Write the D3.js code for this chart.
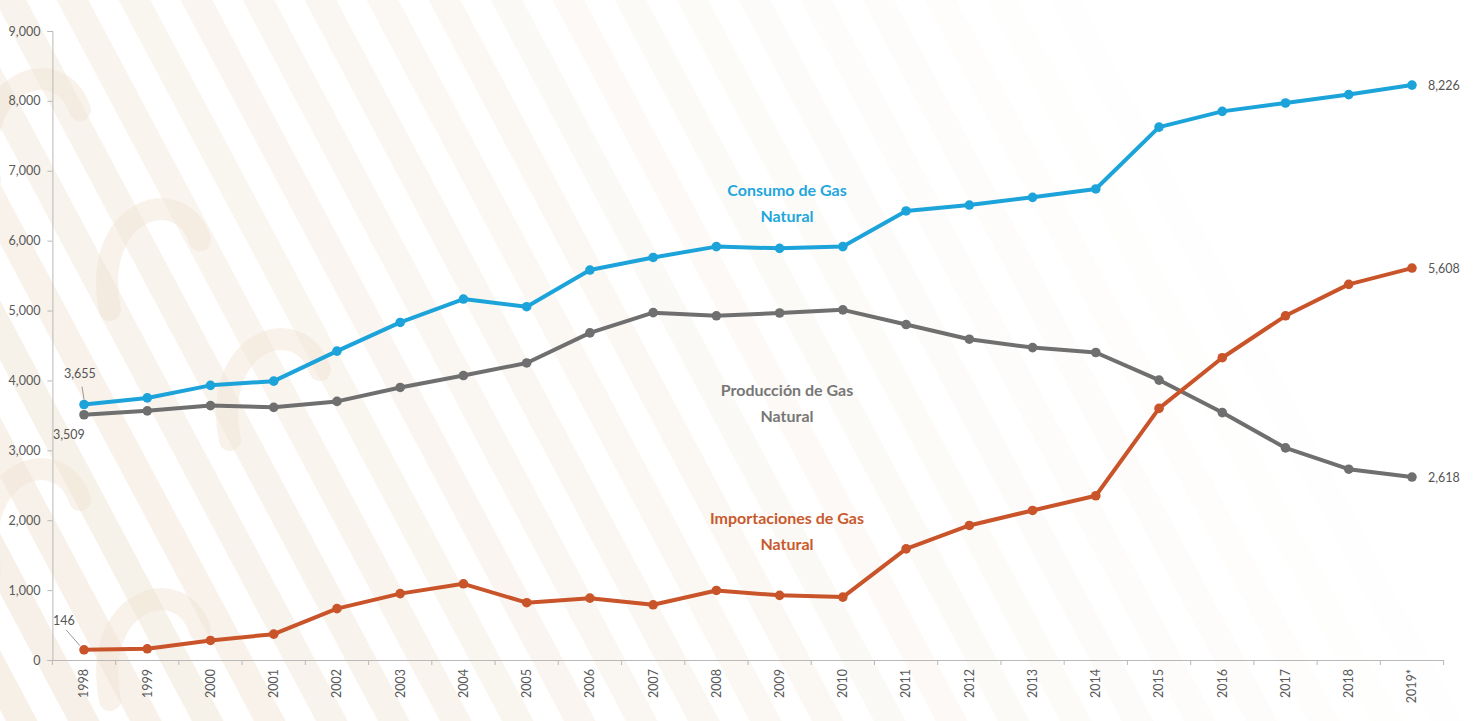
<!DOCTYPE html>
<html>
<head>
<meta charset="utf-8">
<script src="https://cdn.jsdelivr.net/npm/d3@7"></script>
<style>
  html, body { margin: 0; padding: 0; background: #fff; }
  svg { display: block; }
  text { font-family: Lato, "Open Sans", sans-serif; }
</style>
</head>
<body>
<svg id="chart" width="1478" height="721"></svg>
<script>
// Natural gas in Mexico, 1998–2019 (MMpcd)
const years = ["1998","1999","2000","2001","2002","2003","2004","2005","2006","2007","2008",
               "2009","2010","2011","2012","2013","2014","2015","2016","2017","2018","2019*"];

const consumo = [3655,3750,3930,3990,4420,4830,5165,5055,5580,5760,5915,5890,5915,6425,6510,
                 6620,6740,7625,7850,7970,8090,8226];
const produccion = [3509,3565,3640,3615,3700,3900,4070,4250,4680,4970,4925,4965,5010,4800,4590,
                    4470,4400,4005,3540,3035,2730,2618];
const importaciones = [146,160,280,370,735,950,1090,820,885,790,995,925,900,1590,1925,
                       2140,2350,3600,4325,4925,5375,5608];

const yTicks = [0,1000,2000,3000,4000,5000,6000,7000,8000,9000];

const series = [
  { name: ["Consumo de Gas","Natural"], values: consumo, color: "#1ba3da", labelColor: "#22a6dc",
    labelAt: { x: 787, y: 196 } },
  { name: ["Producción de Gas","Natural"], values: produccion, color: "#6f6f6f", labelColor: "#777777",
    labelAt: { x: 787, y: 396 } },
  { name: ["Importaciones de Gas","Natural"], values: importaciones, color: "#c9542a", labelColor: "#c85a2e",
    labelAt: { x: 787, y: 524 } }
];

const svg = d3.select("#chart");
const W = 1478, H = 721;

// ---- decorative background: faint beige slanted bands, fading toward the right ----
const bg = svg.append("g");
const bandIdx = d3.range(-8, 26);
const bandOpacity = i => Math.max(0, 0.55 * (1 - (i * 62 + 200) / 1500));
bg.selectAll("rect.band").data(bandIdx).join("rect")
  .attr("class", "band")
  .attr("x", i => i * 62)
  .attr("y", -300)
  .attr("width", 28)
  .attr("height", 1400)
  .attr("rx", 14)
  .attr("fill", "#efe3d2")
  .attr("fill-opacity", bandOpacity)
  .attr("transform", i => `rotate(-28 ${i * 62} 360)`);
bg.selectAll("path.swirl").data(d3.range(0, 5)).join("path")
  .attr("class", "swirl")
  .attr("d", i => {
    const cx = 30 + (i % 3) * 120, cy = 120 + i * 130;
    return `M${cx - 40},${cy + 60} C${cx - 60},${cy - 40} ${cx + 30},${cy - 70} ${cx + 50},${cy - 10}`;
  })
  .attr("fill", "none").attr("stroke", "#efe3d2").attr("stroke-opacity", 0.45)
  .attr("stroke-width", 22).attr("stroke-linecap", "round");

// ---- scales ----
const x = d3.scaleBand().domain(years).range([52.4, 1443.6]).padding(0);
const y = d3.scaleLinear().domain([0, 9000]).range([660, 31]);
const cx = d => x(d) + x.bandwidth() / 2;

const axisColor = "#b9b9b9";
const tickText = "#595959";

// ---- y axis ----
const yAxis = svg.append("g").attr("transform", "translate(52.4,0)")
  .call(d3.axisLeft(y).tickValues(yTicks).tickFormat(d3.format(",")).tickSize(5).tickPadding(7));
yAxis.select(".domain").attr("stroke", axisColor);
yAxis.selectAll(".tick line").attr("stroke", axisColor);
yAxis.selectAll(".tick text").attr("fill", tickText).attr("font-size", 12.5)
  .style("font-family", "Lato, 'Open Sans', sans-serif");

// ---- x axis ----
const xAxis = svg.append("g").attr("transform", `translate(0,${y(0)})`)
  .call(d3.axisBottom(x).tickSize(0).tickPadding(0));
xAxis.select(".domain").attr("stroke", axisColor);
xAxis.selectAll(".tick text")
  .attr("fill", tickText).attr("font-size", 12.5)
  .style("font-family", "Lato, 'Open Sans', sans-serif")
  .attr("text-anchor", "end")
  .attr("dy", "0.35em")
  .attr("transform", "translate(0,9) rotate(-90)")
  .attr("x", 0).attr("y", 0);
// category boundary ticks
const bounds = years.map(d => x(d)).concat([x.range()[1]]);
xAxis.selectAll("line.bt").data(bounds).join("line")
  .attr("class", "bt")
  .attr("x1", d => d).attr("x2", d => d)
  .attr("y1", 0).attr("y2", 5)
  .attr("stroke", axisColor);

// ---- lines and markers ----
const line = d3.line().x((v, i) => cx(years[i])).y(v => y(v));
const sg = svg.selectAll("g.series").data(series).join("g").attr("class", "series");
sg.append("path")
  .attr("d", s => line(s.values))
  .attr("fill", "none")
  .attr("stroke", s => s.color)
  .attr("stroke-width", 4)
  .attr("stroke-linejoin", "round");
sg.selectAll("circle").data(s => s.values.map((v, i) => ({ v, i, c: s.color }))).join("circle")
  .attr("cx", d => cx(years[d.i]))
  .attr("cy", d => y(d.v))
  .attr("r", 4.8)
  .attr("fill", d => d.c);

// ---- series names ----
sg.append("text")
  .attr("x", s => s.labelAt.x)
  .attr("y", s => s.labelAt.y)
  .attr("text-anchor", "middle")
  .attr("font-size", 16)
  .attr("font-weight", "bold")
  .attr("fill", s => s.labelColor)
  .selectAll("tspan").data(s => s.name).join("tspan")
  .attr("x", function () { return d3.select(this.parentNode).attr("x"); })
  .attr("dy", (d, i) => i === 0 ? 0 : 26)
  .text(d => d);

// ---- value labels ----
const fmt = d3.format(",");
const valColor = "#555";
const last = years.length - 1;
series.forEach(s => {
  svg.append("text")
    .attr("x", cx(years[last]) + 16)
    .attr("y", y(s.values[last]) + 5)
    .attr("font-size", 12.5).attr("fill", valColor)
    .text(fmt(s.values[last]));
});
// first-year labels with leader lines
const x0 = cx(years[0]);
svg.append("text").attr("x", x0 - 20).attr("y", y(consumo[0]) - 27)
  .attr("font-size", 12.5).attr("fill", valColor).text(fmt(consumo[0]));
svg.append("line").attr("x1", x0 - 2).attr("y1", y(consumo[0]) - 18)
  .attr("x2", x0).attr("y2", y(consumo[0]) - 5).attr("stroke", "#999").attr("stroke-width", 1);
svg.append("text").attr("x", x0 - 31).attr("y", y(produccion[0]) + 24)
  .attr("font-size", 12.5).attr("fill", valColor).text(fmt(produccion[0]));
svg.append("text").attr("x", x0 - 31).attr("y", y(importaciones[0]) - 25)
  .attr("font-size", 12.5).attr("fill", valColor).text(fmt(importaciones[0]));
svg.append("line").attr("x1", x0 - 18).attr("y1", y(importaciones[0]) - 20)
  .attr("x2", x0 - 4).attr("y2", y(importaciones[0]) - 4).attr("stroke", "#999").attr("stroke-width", 1);
</script>
</body>
</html>
